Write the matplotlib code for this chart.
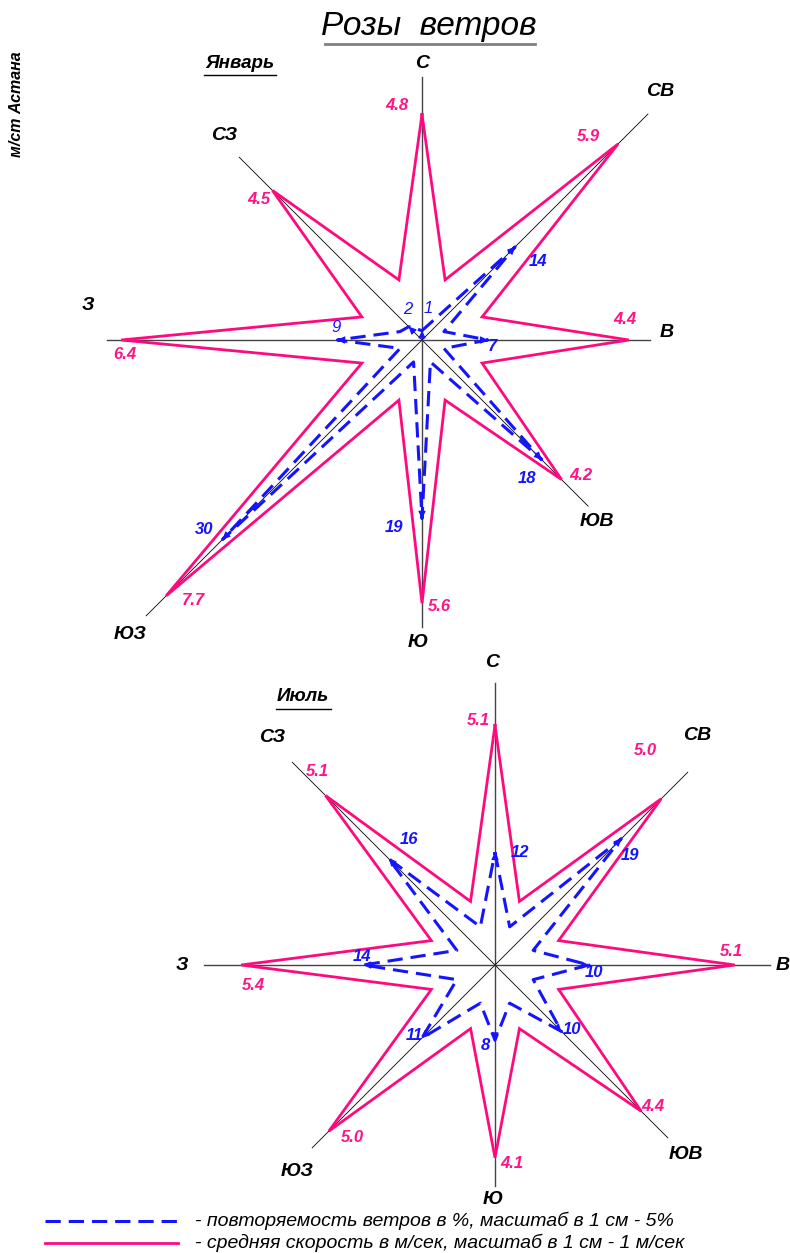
import numpy as np
import matplotlib
matplotlib.use("Agg")
import matplotlib.pyplot as plt
from matplotlib.lines import Line2D

# ── data ─────────────────────────────────────────────────────────────────────
DIRS = ["С", "СВ", "В", "ЮВ", "Ю", "ЮЗ", "З", "СЗ"]
JAN_SPEED = [4.8, 5.9, 4.4, 4.2, 5.6, 7.7, 6.4, 4.5]   # м/сек
JAN_FREQ  = [1, 14, 7, 18, 19, 30, 9, 2]               # %
JUL_SPEED = [5.1, 5.0, 5.1, 4.4, 4.1, 5.0, 5.4, 5.1]
JUL_FREQ  = [12, 19, 10, 10, 8, 11, 14, 16]

SPEED_SCALE = 1.0   # 1 cm - 1 m/s
FREQ_SCALE = 5.0    # 1 cm - 5 %

# ── style ────────────────────────────────────────────────────────────────────
W, H = 790, 1253
PX = 47.0            # pixels per cm
PINK = "#ff0a7e"
PINK_T = "#ff1488"
BLUE = "#1414ff"
FONT = ["Liberation Sans", "DejaVu Sans"]

fig = plt.figure(figsize=(W / 100, H / 100), dpi=100, facecolor="white")


def fx(x):
    return x / W


def fy(y):
    return 1 - y / H


def rose_axes(cx, cy):
    ax = fig.add_axes([0, 0, 1, 1])
    ax.set_xlim(-cx / PX, (W - cx) / PX)
    ax.set_ylim(-(H - cy) / PX, cy / PX)
    ax.axis("off")
    ax.patch.set_alpha(0)
    return ax


def star(values, scale, r_in, off_deg):
    ang = np.deg2rad(np.arange(8) * 45.0)
    r = np.asarray(values, dtype=float) / scale
    tips = np.column_stack([r * np.sin(ang), r * np.cos(ang)])
    pts = []
    for i in range(8):
        j = (i + 1) % 8
        pts.append(tips[i])
        # inner point: ~20 deg from the main N/E/S/W axes
        a = ang[i] + np.deg2rad(off_deg if i % 2 == 0 else 45 - off_deg)
        u = np.array([np.sin(a), np.cos(a)])
        p1, d = tips[i], tips[j] - tips[i]
        den = u[0] * d[1] - u[1] * d[0]
        s = (p1[0] * d[1] - p1[1] * d[0]) / den if abs(den) > 1e-9 else r_in
        rr = min(r_in, s) if s > 0 else r_in
        pts.append(u * rr)
    pts.append(tips[0])
    return np.array(pts), tips


def draw_rose(ax, speed, freq, axis_len, dir_lbl, spd_lbl, frq_lbl,
              pink_in, blue_in, frq_bold):
    ang = np.deg2rad(np.arange(8) * 45.0)
    for k, (a, L) in enumerate(zip(ang, axis_len)):
        main = k % 2 == 0
        ax.plot([0, L * np.sin(a)], [0, L * np.cos(a)],
                color="#444444" if main else "black",
                lw=1.0 if main else 0.6, zorder=1)
    pts, _ = star(speed, SPEED_SCALE, pink_in, 21)
    ax.plot(pts[:, 0], pts[:, 1], color=PINK, lw=2.0, zorder=3,
            solid_joinstyle="miter")
    pts, tips = star(freq, FREQ_SCALE, blue_in, 21)
    ax.plot(pts[:, 0], pts[:, 1], color=BLUE, lw=2.2, zorder=4,
            linestyle=(0, (5, 2.6)))
    for t in tips:
        ax.annotate("", xy=t, xytext=t * 0.93,
                    arrowprops=dict(arrowstyle="-|>", color=BLUE, lw=0.8,
                                    mutation_scale=11, shrinkA=0, shrinkB=0),
                    zorder=5)
    for name, (x, y) in zip(DIRS, dir_lbl):
        ax.text(x, y, name, fontsize=14, fontweight="bold", fontstyle="italic",
                family=FONT, ha="center", va="center", color="black")
    for v, (x, y) in zip(speed, spd_lbl):
        ax.text(x, y, f"{v:.1f}", fontsize=12, fontweight="bold",
                fontstyle="italic", family=FONT, ha="center", va="center",
                color=PINK_T)
    for v, (x, y), b in zip(freq, frq_lbl, frq_bold):
        ax.text(x, y, f"{v}", fontsize=12, fontweight="bold" if b else "normal",
                fontstyle="italic", family=FONT, ha="center", va="center",
                color=BLUE)


# ── January ──────────────────────────────────────────────────────────────────
ax1 = rose_axes(422, 340)
draw_rose(
    ax1, JAN_SPEED, JAN_FREQ,
    axis_len=[5.6, 6.8, 4.85, 5.0, 6.1, 8.3, 6.7, 5.5],
    dir_lbl=[(0, 5.89), (5.06, 5.28), (5.21, 0.15), (3.72, -3.87),
             (-0.09, -6.43), (-6.21, -6.26), (-7.11, 0.74), (-4.21, 4.36)],
    spd_lbl=[(-0.53, 5.0), (3.53, 4.34), (4.32, 0.43), (3.38, -2.89),
             (0.36, -5.66), (-4.87, -5.55), (-6.32, -0.30), (-3.47, 2.98)],
    frq_lbl=[(0.13, 0.66), (2.47, 1.66), (1.49, -0.13), (2.23, -2.94),
             (-0.6, -3.98), (-4.64, -4.04), (-1.83, 0.26), (-0.3, 0.64)],
    pink_in=1.37, blue_in=0.5,
    frq_bold=[False, True, True, True, True, True, False, False],
)

# ── July ─────────────────────────────────────────────────────────────────────
ax2 = rose_axes(495, 965)
draw_rose(
    ax2, JUL_SPEED, JUL_FREQ,
    axis_len=[6.0, 5.8, 5.85, 5.2, 4.7, 5.5, 6.2, 6.1],
    dir_lbl=[(-0.06, 6.43), (4.30, 4.89), (6.13, 0), (4.06, -4.04),
             (-0.04, -5.0), (-4.21, -4.40), (-6.66, 0), (-4.74, 4.83)],
    spd_lbl=[(-0.36, 5.21), (3.19, 4.57), (5.04, 0.28), (3.36, -3.02),
             (0.36, -4.23), (-3.04, -3.68), (-5.13, -0.43), (-3.77, 4.11)],
    frq_lbl=[(0.53, 2.40), (2.87, 2.34), (2.11, -0.17), (1.64, -1.38),
             (-0.21, -1.72), (-1.72, -1.49), (-2.83, 0.19), (-1.83, 2.66)],
    pink_in=1.45, blue_in=0.87,
    frq_bold=[True] * 8,
)

# ── titles ───────────────────────────────────────────────────────────────────
fig.text(fx(429), fy(27), "Розы  ветров", fontsize=24, fontstyle="italic",
         family=FONT, ha="center", va="center")
fig.add_artist(Line2D([fx(325), fx(535)], [fy(44), fy(44)],
                      transform=fig.transFigure, color="#808080", lw=2))

fig.text(fx(240), fy(64), "Январь", fontsize=13.5, fontweight="bold",
         fontstyle="italic", family=FONT, ha="center", va="center")
fig.add_artist(Line2D([fx(204), fx(276)], [fy(75), fy(75)],
                      transform=fig.transFigure, color="black", lw=1))

fig.text(fx(303), fy(697), "Июль", fontsize=13.5, fontweight="bold",
         fontstyle="italic", family=FONT, ha="center", va="center")
fig.add_artist(Line2D([fx(276), fx(331)], [fy(709), fy(709)],
                      transform=fig.transFigure, color="black", lw=1))

fig.text(fx(17), fy(104), "м/ст Астана", fontsize=11.5, fontweight="bold",
         fontstyle="italic", family=FONT, ha="center", va="center",
         rotation=90)

# ── legend ───────────────────────────────────────────────────────────────────
fig.add_artist(Line2D([fx(45), fx(178)], [fy(1221), fy(1221)],
                      transform=fig.transFigure, color=BLUE, lw=2.2,
                      linestyle=(0, (5, 2.6))))
fig.add_artist(Line2D([fx(45), fx(178)], [fy(1243), fy(1243)],
                      transform=fig.transFigure, color=PINK, lw=2.0))
fig.text(fx(195), fy(1221), "- повторяемость ветров в %, масштаб в 1 см - 5%",
         fontsize=14, fontstyle="italic", family=FONT, ha="left", va="center")
fig.text(fx(195), fy(1243), "- средняя скорость в м/сек, масштаб в 1 см - 1 м/сек",
         fontsize=14, fontstyle="italic", family=FONT, ha="left", va="center")

fig.savefig("out.png", dpi=100, facecolor="white")
